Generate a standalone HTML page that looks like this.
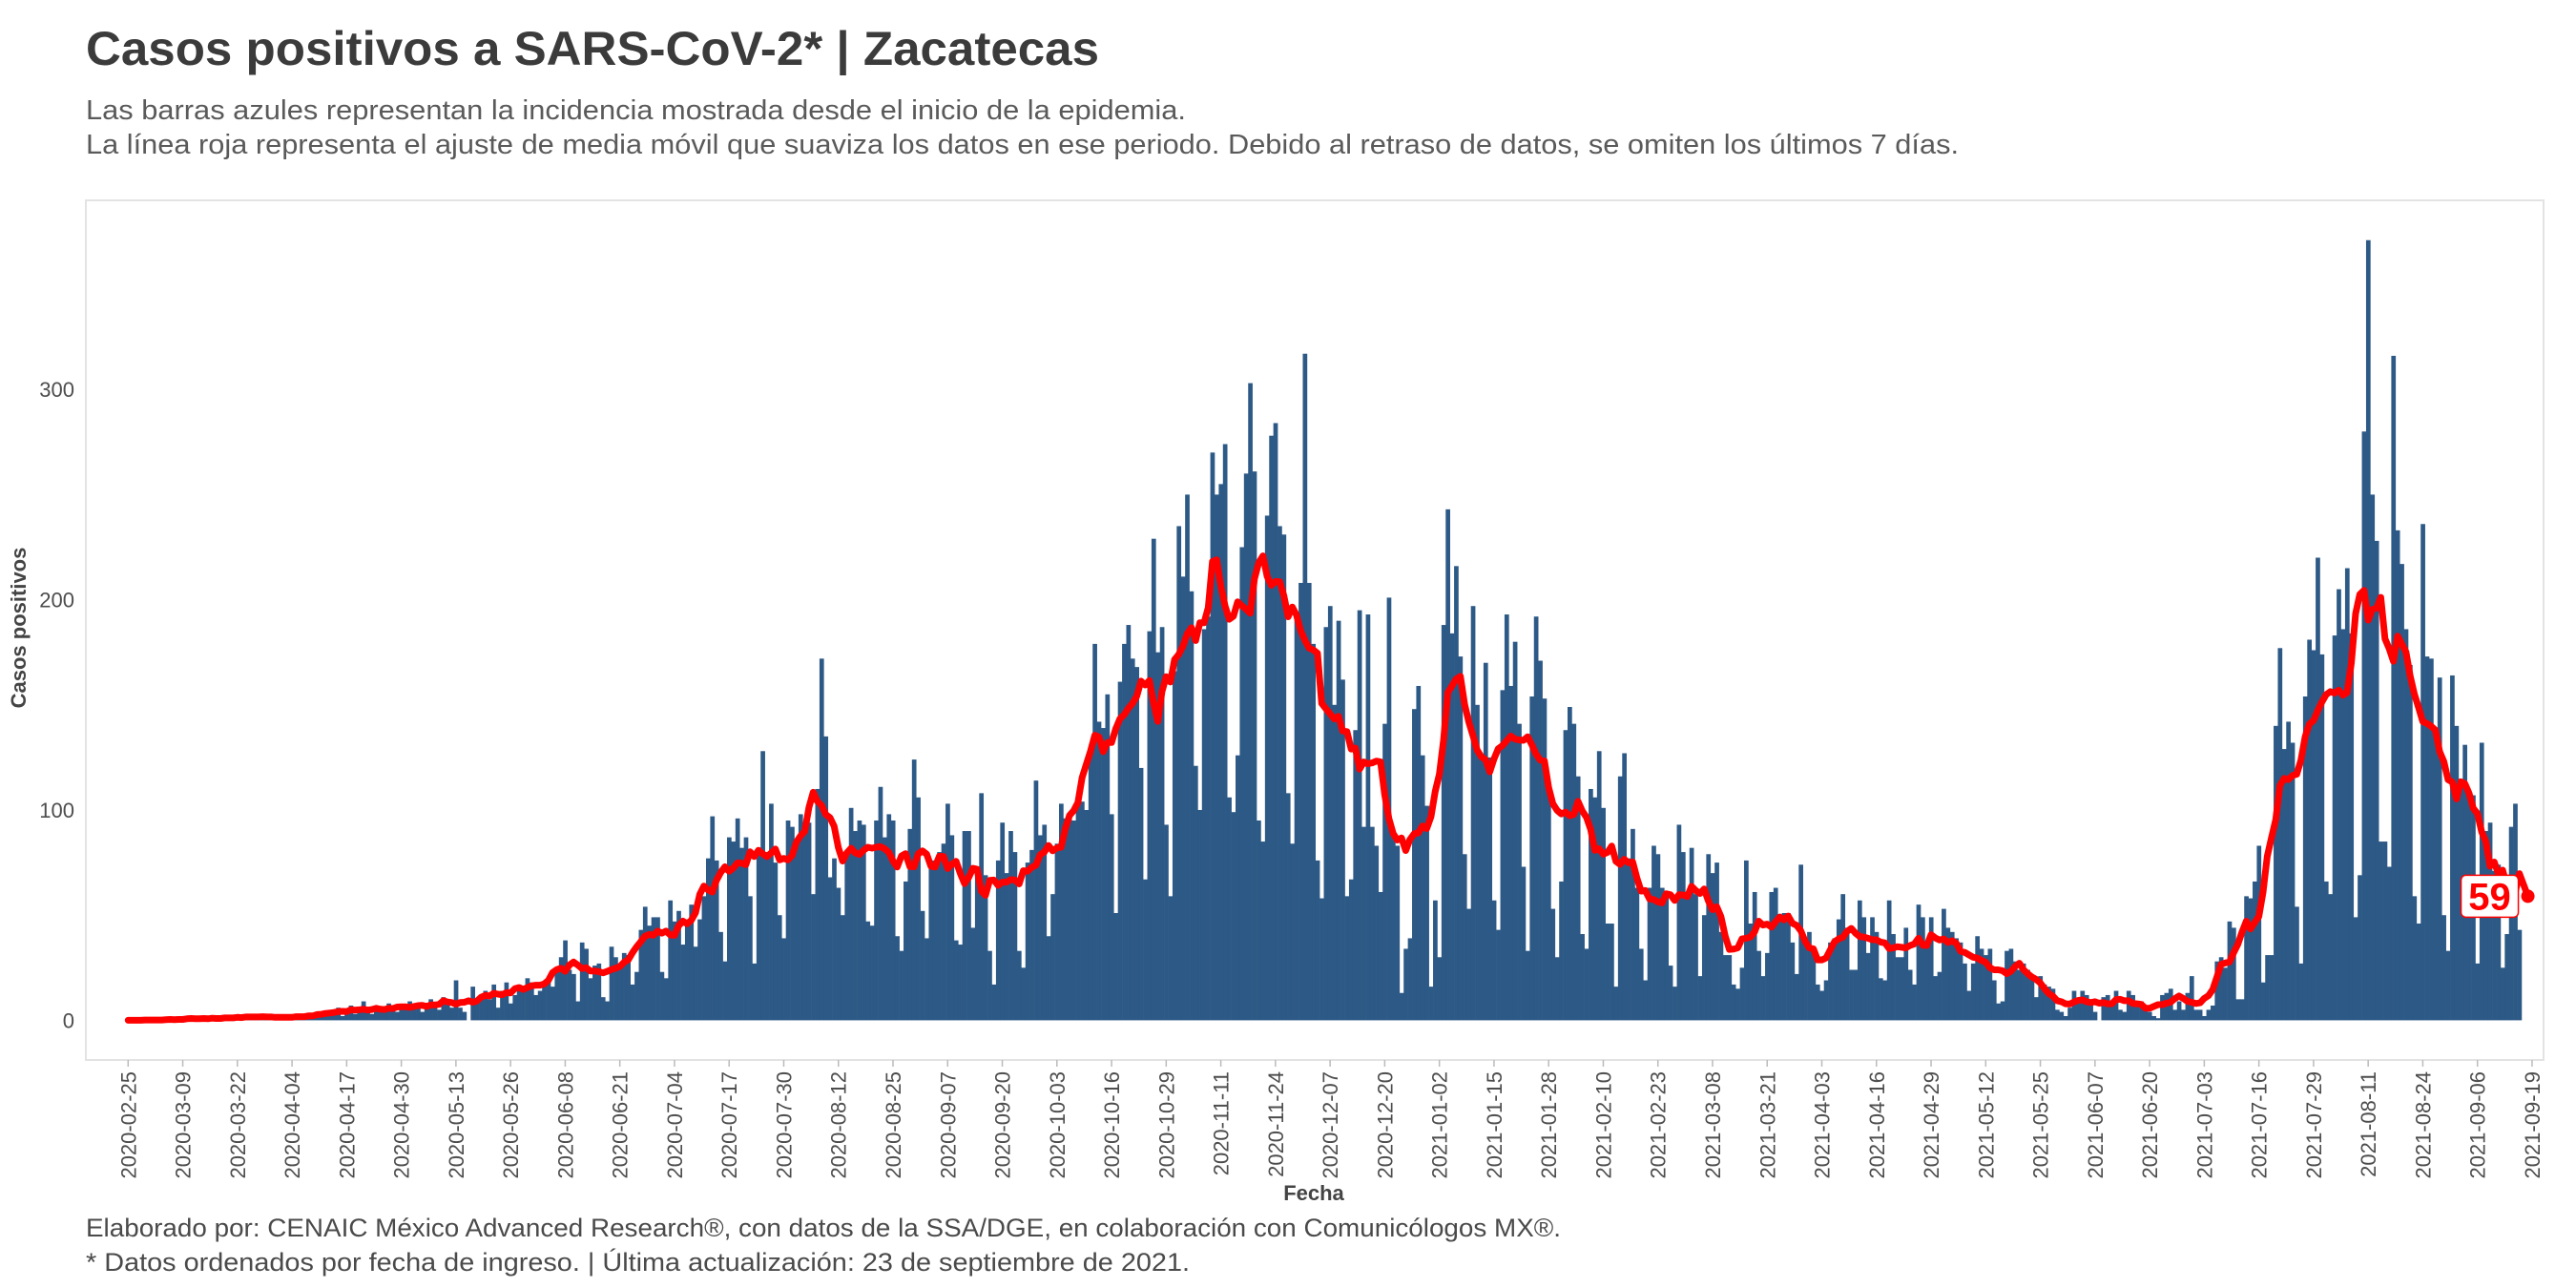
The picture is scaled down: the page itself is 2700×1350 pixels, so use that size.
<!DOCTYPE html>
<html><head><meta charset="utf-8">
<style>
html,body{margin:0;padding:0;background:#fff;}
svg{display:block;font-family:"Liberation Sans",sans-serif;}
</style></head>
<body>
<svg id="chart" width="2700" height="1350" viewBox="0 0 2700 1350" xmlns="http://www.w3.org/2000/svg">
  <text x="90" y="68" font-size="50" font-weight="bold" fill="#3b3b3b" textLength="1062" lengthAdjust="spacingAndGlyphs">Casos positivos a SARS-CoV-2* | Zacatecas</text>
  <text x="90" y="125" font-size="29" fill="#5a5a5a" textLength="1153" lengthAdjust="spacingAndGlyphs">Las barras azules representan la incidencia mostrada desde el inicio de la epidemia.</text>
  <text x="90" y="161" font-size="29" fill="#5a5a5a" textLength="1963" lengthAdjust="spacingAndGlyphs">La línea roja representa el ajuste de media móvil que suaviza los datos en ese periodo. Debido al retraso de datos, se omiten los últimos 7 días.</text>
  <rect x="90" y="210" width="2576" height="901" fill="none" stroke="#e3e3e3" stroke-width="2"/>
  <g id="bars"></g>
  <g id="line"></g>
  <g id="yaxis"></g>
  <g id="xaxis"></g>
  <text transform="translate(27,658) rotate(-90)" text-anchor="middle" font-size="22" font-weight="bold" fill="#444">Casos positivos</text>
  <text x="1377" y="1258" text-anchor="middle" font-size="22" font-weight="bold" fill="#444">Fecha</text>
  <text x="90" y="1296" font-size="27" fill="#4a4a4a" textLength="1546" lengthAdjust="spacingAndGlyphs">Elaborado por: CENAIC México Advanced Research®, con datos de la SSA/DGE, en colaboración con Comunicólogos MX®.</text>
  <text x="90" y="1332" font-size="27" fill="#4a4a4a" textLength="1157" lengthAdjust="spacingAndGlyphs">* Datos ordenados por fecha de ingreso. | Última actualización: 23 de septiembre de 2021.</text>
</svg>
<script>
// daily cases starting 2020-02-25
const casesEarly = [0,0,0,0,0,0,0,1,0,0,0,0,1, 1,0,1,0,2,1,0,1,1,0,2,1,1, 2,1,1,2,1,3,1,2,1,2,1,1,2, 1,2,1,2,3,1,2,4,2,5];
const casesSpring = [3,6,2,4,7,3,4,9,5,3,6,4, 5,8,6,4,7,5,9,6,8,4,7,10,6,5,11,8,6,
  19,6,4,0,16,9,11,14,10,17,6,14,18,8,12,17,16,20,18,12,14,18,19,16,24,30, 38,24,22,9,37,34];
const casesSummer = [20,26,27,11,9,35,30,25,32,31,17,23,43,54,45,49,49,23,
  20,57,47,52,36,48,55,35,48,59,77,97,76,42,28,87,85,96,82,87,
  59,27,82,128,80,103,75,50,39,95,92,85,98,90,94,60,110,172,135,68,
  77,63,50,81,101,90,95,93,47,45,95,111,87,98,95,40,33,66,91,124,
  106,52,39,76,76,80,84,103,88,38,36,90,90,44,69,108,69,33,17,76,
  94,70,90,80,33,25,75,81,114,88,93,40,60,84,103,96,98];
const casesWinter = [95,102,104,100,130,179,142,139,155,98,51,161,179,188,172,168,120,67,185,
  229,175,187,93,59,166,235,211,250,204,121,100,186,192,270,250,255,274,106,
  99,126,225,260,303,261,95,85,240,278,284,235,231,108,84,193,208,317,208,179,
  76,58,187,197,150,190,162,59,67,138,195,92,193,92,83,61,141,201,89,
  83,13,34,39,148,159,126,102,16,57,30,188,243,184,216,173,79,53,197,
  150,125,170,125,57,43,157,193,159,180,141,73,33,154,192,171,153];
const casesSpring21 = [110,53,30,66,138,149,141,116,41,34,110,106,128,101,46,46,16,116,127,77,
  91,63,34,19,63,83,79,63,61,26,16,93,80,60,82,60,21,50,79,70,
  75,42,31,31,17,15,25,76,46,61,33,21,32,61,63,49,51,51,37,22,
  74,39,42,33,17,14,19,37,39,48,60,44,24,24,57,49,32,49,42,20,
  19,57,41,30,30,44,24,17,55,49,35,49,21,23,53,44,42,39,37,27,
  14,27,40,34,31,34,19,8,9,33,34,28,24,27];
const casesWave3 = [24,20,11,21,17,16,15,5,4,2,6,14,9,14,12,9,4,0,11,12,
  9,14,5,4,14,12,7,9,5,4,2,1,12,13,15,5,9,5,13,21,
  5,5,2,5,7,28,30,25,47,44,10,10,59,58,66,83,18,31,31,140,
  177,129,142,132,54,27,154,181,176,220,174,66,60,183,205,186,215,184,49,69,
  280,371,250,228,85,85,73,316,233,217,186,169,59,46,236,173,172,139,163,50,
  33,164,140,112,131,107,107,27,132,90,94,71,74,25,41,92,103,43];
const maEndValue = 59;
const maEndDay = 571;
const yTicks = [0,100,200,300];
const xTickLabels = ["2020-02-25","2020-03-09","2020-03-22","2020-04-04","2020-04-17","2020-04-30","2020-05-13","2020-05-26","2020-06-08","2020-06-21","2020-07-04","2020-07-17","2020-07-30","2020-08-12","2020-08-25","2020-09-07","2020-09-20","2020-10-03","2020-10-16","2020-10-29","2020-11-11","2020-11-24","2020-12-07","2020-12-20","2021-01-02","2021-01-15","2021-01-28","2021-02-10","2021-02-23","2021-03-08","2021-03-21","2021-04-03","2021-04-16","2021-04-29","2021-05-12","2021-05-25","2021-06-07","2021-06-20","2021-07-03","2021-07-16","2021-07-29","2021-08-11","2021-08-24","2021-09-06","2021-09-19"];

const cases = [].concat(casesEarly, casesSpring, casesSummer, casesWinter, casesSpring21, casesWave3);
const NS = "http://www.w3.org/2000/svg";
const X0 = 134.3, DX = 4.405, Y0 = 1069.4, DY = 2.204;
function xScale(d){ return X0 + d*DX; }
function yScale(v){ return Y0 - v*DY; }
function mk(tag, attrs, parent){ const e=document.createElementNS(NS,tag); for(const k in attrs) e.setAttribute(k,attrs[k]); parent.appendChild(e); return e; }
const t0 = Date.UTC(2020,1,25);
function dayOf(s){ const p=s.split("-"); return Math.round((Date.UTC(+p[0],+p[1]-1,+p[2])-t0)/86400000); }

const gb = document.getElementById("bars");
cases.forEach((v,i)=>{
  const r = mk("rect",{x:(xScale(i)-DX/2).toFixed(2), y:yScale(v).toFixed(2), width:(DX+0.3).toFixed(2), height:(v*DY).toFixed(2), fill:"#2d5986"}, gb);
  
  
});

// smoothed line: centred 7-day mean of the bars, ending at the reported value
const ma = cases.map((v,i)=>{ let s=0,n=0; for(let k=i-3;k<=i+3;k++){ if(k>=0&&k<cases.length){s+=cases[k];n++;} } return s/n; });
const gl = document.getElementById("line");
let dPath = ma.map((v,i)=>(i?"L":"M")+xScale(i).toFixed(1)+","+yScale(v).toFixed(1)).join(" ");
dPath += " L"+xScale(maEndDay).toFixed(1)+","+yScale(maEndValue).toFixed(1);
const pl = mk("path",{d:dPath, fill:"none", stroke:"#ff0000", "stroke-width":7, "stroke-linejoin":"round", "stroke-linecap":"round"}, gl);


const ex = xScale(maEndDay), ey = yScale(maEndValue);
const dot = mk("circle",{cx:ex, cy:ey, r:7, fill:"#ff0000"}, gl);


const box = mk("rect",{x:ex-70, y:ey-22, width:60, height:44, rx:5, fill:"#fff", stroke:"#ff0000", "stroke-width":1.5}, gl);


const lt = mk("text",{x:ex-40, y:ey+14, "text-anchor":"middle", "font-size":40, "font-weight":"bold", fill:"#ff0000"}, gl);
lt.textContent = String(maEndValue);



const gy = document.getElementById("yaxis");
yTicks.forEach(t=>{
  const tx = mk("text",{x:78, y:yScale(t)+8, "text-anchor":"end", "font-size":22, fill:"#4d4d4d"}, gy);
  tx.textContent = t;
  
  
});

const gx = document.getElementById("xaxis");
xTickLabels.forEach(s=>{
  const x = xScale(dayOf(s));
  const tk = mk("line",{x1:x, x2:x, y1:1111, y2:1118, stroke:"#bbb", "stroke-width":1.5}, gx);
  
  
  const tx = mk("text",{transform:"translate("+(x+8)+",1123) rotate(-90)", "text-anchor":"end", "font-size":22, fill:"#4d4d4d"}, gx);
  tx.textContent = s;
  
  
});
</script>
</body></html>
